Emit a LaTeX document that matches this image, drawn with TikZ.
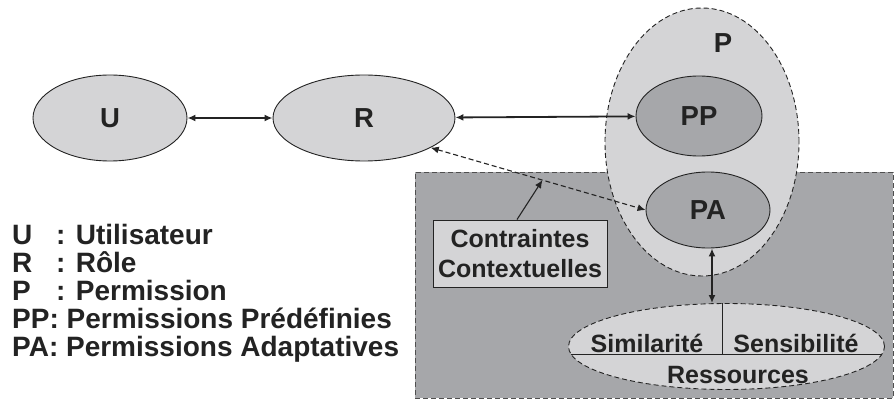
\documentclass[tikz,border=0pt]{standalone}
\usepackage{fontspec}
\setmainfont{Liberation Sans}
\usetikzlibrary{shapes.geometric,arrows.meta,calc}
\definecolor{lightg}{RGB}{212,212,214}
\definecolor{darkg}{RGB}{166,167,170}
\definecolor{ink}{RGB}{35,35,35}
\begin{document}
\begin{tikzpicture}[x=1pt,y=-1pt,
  ell/.style={ellipse, draw=ink, line width=0.9pt, inner sep=0pt, font=\bfseries\fontsize{27.5}{30}\selectfont, text=ink},
  dashline/.style={dash pattern=on 5pt off 3pt},
  arr/.style={draw=ink, line width=1.8pt, {Latex[length=8pt,width=7pt]}-{Latex[length=8pt,width=7pt]}},
  arrone/.style={draw=ink, line width=1.1pt, -{Latex[length=8pt,width=7pt]}},
  lab/.style={inner sep=0pt, font=\bfseries\fontsize{25}{30}\selectfont, text=ink},
  leg/.style={anchor=base west, inner sep=0pt, font=\bfseries\fontsize{28}{30}\selectfont, text=ink}]
\useasboundingbox (0,0) rectangle (895,401);
% contextual zone
\node[draw=ink!80, dashline, line width=0.9pt, fill=darkg, minimum width=478pt, minimum height=226pt, inner sep=0pt] (zone) at (654,285) {};
% main ellipses
\node[ell, fill=lightg, minimum width=154pt, minimum height=86pt] (U) at (110,118) {U};
\node[ell, fill=lightg, minimum width=182pt, minimum height=86pt] (R) at (364,118) {R};
\node[ell, fill=lightg, dashline, minimum width=194pt, minimum height=268pt] (P) at (702,142) {};
\node[lab, font=\bfseries\fontsize{27.5}{30}\selectfont] (Plabel) at (723,43) {P};
\node[ell, fill=darkg, minimum width=126pt, minimum height=80pt] (PP) at (699,116) {PP};
\node[ell, fill=darkg, minimum width=124pt, minimum height=76pt] (PA) at (708,210) {PA};
% resources
\node[ell, fill=lightg, dashline, minimum width=316pt, minimum height=86pt] (res) at (726.5,346.5) {};
\draw[ink, line width=0.9pt] ($(res.center)+(-155.6,7.5)$) -- ($(res.center)+(155.6,7.5)$);
\draw[ink, line width=0.9pt] ($(res.north)+(-4.5,0)$) -- ($(res.center)+(-4.5,7.5)$);
\node[lab, anchor=base] (sim) at (647,352) {Similarité};
\node[lab, anchor=base] (sen) at (796,352) {Sensibilité};
\node[lab, anchor=base] (ress) at (738,383) {Ressources};
% constraints box
\node[draw=ink, fill=lightg, line width=0.9pt, minimum width=174pt, minimum height=67pt, align=center, inner sep=0pt, font=\bfseries\fontsize{25}{30}\selectfont, text=ink] (CC) at (520,253.5) {Contraintes\\Contextuelles};
% connectors
\draw[arr] (U) -- (R);
\draw[arr] (R) -- (PP);
\draw[arr, line width=1.1pt, dashline] (R.-24) -- (PA.west) coordinate[pos=0.52] (mid);
\draw[arrone] ($(CC.north)+(-3,0)$) -- (mid);
\coordinate (pab) at ($(PA.south)+(4,0)$);
\draw[arr] (pab) -- (pab |- res.north);
% legend
\node[leg] (lU) at (12,244) {U};
\node[leg] (lUd) at (56,244) {: Utilisateur};
\node[leg] (lR) at (12,272) {R};
\node[leg] (lRd) at (56,272) {: Rôle};
\node[leg] (lP) at (12,300) {P};
\node[leg] (lPd) at (56,300) {: Permission};
\node[leg] (lPP) at (12,328.5) {PP: Permissions Prédéfinies};
\node[leg] (lPA) at (12,356.5) {PA: Permissions Adaptatives};
\end{tikzpicture}
\end{document}
